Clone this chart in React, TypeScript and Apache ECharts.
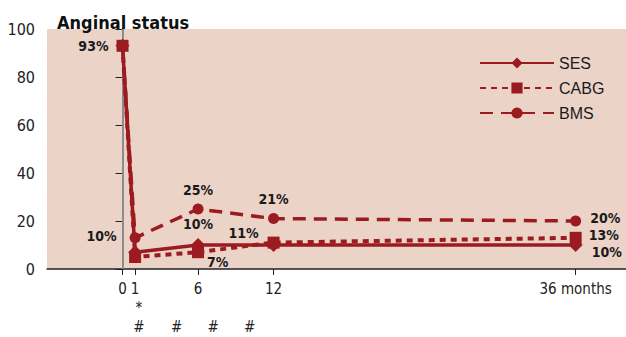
import React, { useEffect, useRef } from "react";
import * as echarts from "echarts";

const months = [0, 1, 6, 12, 36];
const tickLabels = ["0", "1", "6", "12", "36 months"];
const sesValues = [93, 7, 10, 10, 10];
const cabgValues = [93, 5, 7, 11, 13];
const bmsValues = [93, 13, 25, 21, 20];
const yTicks = [0, 20, 40, 60, 80, 100];
const footMarks = [
  { m: 1.3, t: "*", row: 0 },
  { m: 1.3, t: "#", row: 1 },
  { m: 4.3, t: "#", row: 1 },
  { m: 7.2, t: "#", row: 1 },
  { m: 10.1, t: "#", row: 1 },
];

const COLOR = "#9b1b20";
const FONT = "'DejaVu Sans Condensed', 'Liberation Sans Narrow', sans-serif";

type LabelSpec = { [idx: number]: { position: any; text: string; offset?: number[] } };

const sesLabels: LabelSpec = {
  0: { position: "left", text: "93%", offset: [-2, 0] },
  2: { position: "top", text: "10%", offset: [0, -2] },
  4: { position: "right", text: "10%", offset: [4, 7] },
};
const cabgLabels: LabelSpec = {
  2: { position: "right", text: "7%", offset: [-2, 10] },
  3: { position: "left", text: "11%", offset: [-4, -10] },
  4: { position: "right", text: "13%", offset: [2, -3] },
};
const bmsLabels: LabelSpec = {
  1: { position: "left", text: "10%", offset: [-8, -2] },
  2: { position: "top", text: "25%", offset: [0, -2] },
  3: { position: "top", text: "21%", offset: [0, -2] },
  4: { position: "right", text: "20%", offset: [4, -3] },
};

function buildData(vals: number[], labels: LabelSpec) {
  return vals.map((v, i) => {
    const l = labels[i];
    const item: any = { value: [months[i], v] };
    if (l) {
      item.label = {
        show: true,
        position: l.position,
        offset: l.offset || [0, 0],
        formatter: l.text,
        color: "#1a1a1a",
        fontWeight: "bold",
        fontSize: 14,
        lineHeight: 14,
        fontFamily: FONT,
      };
    }
    return item;
  });
}

export default function App() {
  const ref = useRef<HTMLDivElement>(null);
  useEffect(() => {
    if (!ref.current) return;
    const chart = echarts.init(ref.current, null, { renderer: "svg" });
    const xMin = -6;
    const xMax = 40;
    const gridLeft = 47;
    const gridWidth = 626 - gridLeft;
    const xPix = (m: number) => gridLeft + ((m - xMin) / (xMax - xMin)) * gridWidth;
    chart.setOption({
      animation: false,
      backgroundColor: "#ffffff",
      title: {
        text: "Anginal status",
        left: 52,
        top: 8,
        textStyle: { fontFamily: FONT, fontWeight: "bold", fontSize: 18, color: "#111" },
      },
      legend: {
        orient: "vertical",
        left: 474,
        top: 50,
        itemWidth: 74,
        itemHeight: 14,
        itemGap: 9,
        textStyle: { fontFamily: "'Liberation Sans', sans-serif", fontSize: 16, color: "#1a1a1a" },
        data: ["SES", "CABG", "BMS"],
      },
      grid: {
        left: gridLeft,
        right: 0,
        top: 29,
        bottom: 68,
        show: true,
        backgroundColor: "#ecd3c8",
        borderWidth: 0,
      },
      xAxis: {
        type: "value",
        min: xMin,
        max: xMax,
        splitLine: { show: false },
        axisLine: { show: true, lineStyle: { color: "#222", width: 1.5 } },
        axisTick: { show: true, customValues: months, length: 6, lineStyle: { color: "#222" } },
        axisLabel: {
          customValues: months,
          formatter: (v: number) => tickLabels[months.indexOf(v)] ?? "",
          fontFamily: FONT,
          fontSize: 15,
          color: "#222",
          margin: 12,
        },
      },
      yAxis: {
        type: "value",
        min: 0,
        max: 100,
        interval: 20,
        splitLine: { show: false },
        axisLine: { show: true, lineStyle: { color: "#222", width: 2 } },
        axisTick: { show: true, length: 7, lineStyle: { color: "#222" } },
        axisLabel: {
          fontFamily: FONT,
          fontSize: 16,
          color: "#222",
          margin: 12,
          formatter: (v: number) => (yTicks.includes(v) ? String(v) : ""),
        },
      },
      series: [
        {
          name: "SES",
          type: "line",
          symbol: "diamond",
          symbolSize: 14,
          itemStyle: { color: COLOR },
          lineStyle: { color: COLOR, width: 3.5 },
          data: buildData(sesValues, sesLabels),
          z: 3,
          markLine: {
            silent: true,
            symbol: "none",
            label: { show: false },
            lineStyle: { color: "#b0b0b0", width: 1.5, type: "solid" },
            data: [{ xAxis: 0 }],
            z: 1,
          },
        },
        {
          name: "CABG",
          type: "line",
          symbol: "rect",
          symbolSize: 12,
          itemStyle: { color: COLOR },
          lineStyle: { color: COLOR, width: 4, type: [6, 5] },
          data: buildData(cabgValues, cabgLabels),
          z: 3,
        },
        {
          name: "BMS",
          type: "line",
          symbol: "circle",
          symbolSize: 11,
          itemStyle: { color: COLOR },
          lineStyle: { color: COLOR, width: 3.5, type: [13, 8] },
          data: buildData(bmsValues, bmsLabels),
          z: 3,
        },
      ],
      graphic: footMarks.map((f) => ({
        type: "text",
        x: xPix(f.m),
        y: f.row === 0 ? 308 : 327,
        style: {
          text: f.t,
          fontFamily: FONT,
          fontSize: 15,
          fill: "#222",
          textAlign: "center",
          textVerticalAlign: "middle",
        },
      })),
    });
    return () => chart.dispose();
  }, []);
  return <div ref={ref} style={{ width: 626, height: 337, position: "absolute", left: 0, top: 0 }} />;
}
